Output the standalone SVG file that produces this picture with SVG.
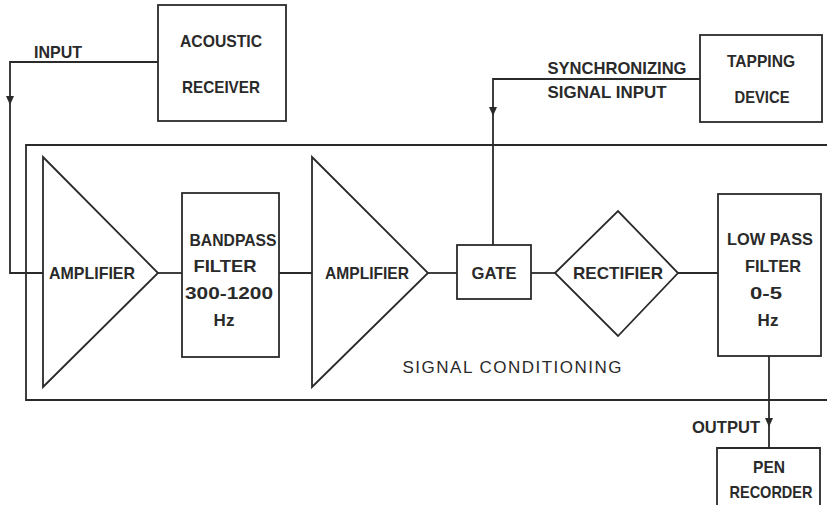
<svg xmlns="http://www.w3.org/2000/svg" width="827" height="505" viewBox="0 0 827 505">
<defs>
<style>
.ln{fill:none;stroke:#2a2a2a;stroke-width:1.8}
.bx{fill:none;stroke:#2a2a2a;stroke-width:1.8}
.t{font-family:"Liberation Sans",Arial,sans-serif;font-size:17px;font-weight:bold;fill:#2a2a2a;text-anchor:middle}
.s{font-family:"Liberation Sans",Arial,sans-serif;font-size:17px;font-weight:normal;fill:#2a2a2a;text-anchor:middle}
.ar{fill:#2a2a2a}
</style>
</defs>
<rect width="827" height="505" fill="#ffffff"/>
<g id="signal-conditioning">
<path class="bx" d="M827,145 H26 V400 H827"/>
<text class="s" x="512" y="373" textLength="219" lengthAdjust="spacing">SIGNAL  CONDITIONING</text>
</g>
<g id="acoustic-receiver">
<rect class="bx" x="158" y="5" width="128" height="116"/>
<text class="t" x="221" y="47" textLength="82" lengthAdjust="spacingAndGlyphs">ACOUSTIC</text>
<text class="t" x="221" y="93" textLength="78" lengthAdjust="spacingAndGlyphs">RECEIVER</text>
</g>
<g id="tapping-device">
<rect class="bx" x="700" y="35" width="122" height="87"/>
<text class="t" x="761" y="67" textLength="68" lengthAdjust="spacingAndGlyphs">TAPPING</text>
<text class="t" x="762" y="103" textLength="55" lengthAdjust="spacingAndGlyphs">DEVICE</text>
</g>
<g id="amplifier-1">
<polygon class="bx" points="43,157 158,273 43,387"/>
<text class="t" x="92" y="279" textLength="86" lengthAdjust="spacingAndGlyphs">AMPLIFIER</text>
</g>
<g id="bandpass-filter">
<rect class="bx" x="182" y="193" width="97" height="164"/>
<text class="t" x="233" y="246" textLength="87" lengthAdjust="spacingAndGlyphs">BANDPASS</text>
<text class="t" x="225" y="272" textLength="63" lengthAdjust="spacingAndGlyphs">FILTER</text>
<text class="t" x="229" y="299" textLength="88" lengthAdjust="spacingAndGlyphs">300-1200</text>
<text class="t" x="224" y="326">Hz</text>
</g>
<g id="amplifier-2">
<polygon class="bx" points="312,157 428,273 312,387"/>
<text class="t" x="367" y="279" textLength="84" lengthAdjust="spacingAndGlyphs">AMPLIFIER</text>
</g>
<g id="gate">
<rect class="bx" x="457" y="245" width="74" height="54"/>
<text class="t" x="494" y="279" textLength="45" lengthAdjust="spacingAndGlyphs">GATE</text>
</g>
<g id="rectifier">
<polygon class="bx" points="555,273 618,211 678,273 618,336"/>
<text class="t" x="618" y="279" textLength="90" lengthAdjust="spacingAndGlyphs">RECTIFIER</text>
</g>
<g id="low-pass-filter">
<rect class="bx" x="718" y="194" width="103" height="162"/>
<text class="t" x="770" y="245" textLength="86" lengthAdjust="spacingAndGlyphs">LOW PASS</text>
<text class="t" x="773" y="272" textLength="56" lengthAdjust="spacingAndGlyphs">FILTER</text>
<text class="t" x="766" y="299" textLength="32" lengthAdjust="spacingAndGlyphs">0-5</text>
<text class="t" x="768" y="326">Hz</text>
</g>
<g id="pen-recorder">
<path class="bx" d="M717,510 V448 H820 V510"/>
<text class="t" x="769" y="473" textLength="32" lengthAdjust="spacingAndGlyphs">PEN</text>
<text class="t" x="771" y="498" textLength="83" lengthAdjust="spacingAndGlyphs">RECORDER</text>
</g>
<g id="connectors">
<path class="ln" d="M158,62 H10 V273 H43"/>
<polygon class="ar" points="6,96 14,96 10,105"/>
<text class="t" x="58" y="58" textLength="48" lengthAdjust="spacingAndGlyphs">INPUT</text>
<path class="ln" d="M700,79 H493 V245"/>
<polygon class="ar" points="489,107 497,107 493,116"/>
<text class="t" x="617" y="74" textLength="139" lengthAdjust="spacingAndGlyphs">SYNCHRONIZING</text>
<text class="t" x="607" y="98" textLength="119" lengthAdjust="spacingAndGlyphs">SIGNAL INPUT</text>
<path class="ln" d="M158,273 H182"/>
<path class="ln" d="M279,273 H312"/>
<path class="ln" d="M428,273 H457"/>
<path class="ln" d="M531,273 H555"/>
<path class="ln" d="M678,273 H718"/>
<path class="ln" d="M769,356 V448"/>
<polygon class="ar" points="765,418 773,418 769,427"/>
<text class="t" x="726" y="433" textLength="68" lengthAdjust="spacingAndGlyphs">OUTPUT</text>
</g>
</svg>
